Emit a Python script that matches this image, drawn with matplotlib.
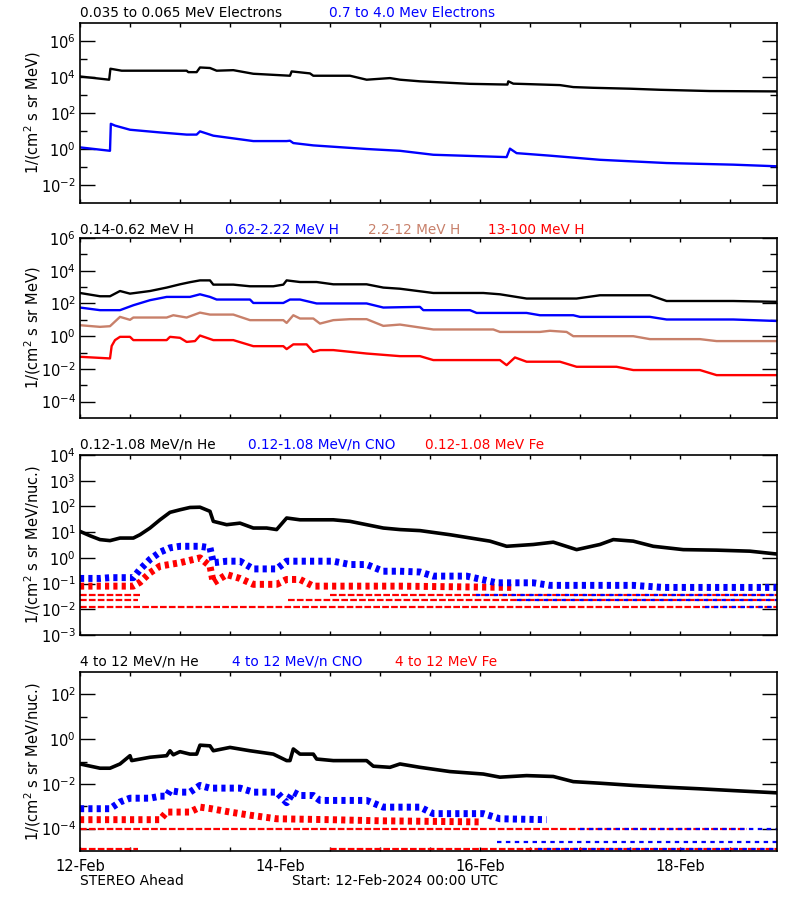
import numpy as np
import matplotlib
matplotlib.use("Agg")
import matplotlib.pyplot as plt
from matplotlib.ticker import FixedLocator, NullFormatter

plt.rcParams['font.family'] = ['DejaVu Sans']

TAN = '#C8806A'

# ---- panel 1: electrons (hours since 12-Feb 00:00, log10 flux)
e_lo_t = [0, 7.0, 7.3, 10, 25.6, 26, 28, 28.8, 31.2, 32.8, 36.8, 41.6, 48, 50.4, 50.8, 55.2, 56, 64.8,
          68.8, 74.4, 76.8, 81.6, 93.6, 102.6, 102.8, 104, 115.2, 118.4, 123.2, 132, 139.2, 151.2, 167.2]
e_lo_v = [4.03, 3.85, 4.46, 4.35, 4.35, 4.27, 4.27, 4.53, 4.5, 4.35, 4.38, 4.18, 4.1, 4.07, 4.31, 4.2, 4.07, 4.07,
          3.85, 3.94, 3.85, 3.76, 3.62, 3.58, 3.76, 3.63, 3.55, 3.44, 3.4, 3.35, 3.29, 3.22, 3.2]
e_hi_t = [0, 7.2, 7.4, 8.4, 12, 19.2, 25.6, 28, 28.8, 32, 41.6, 49.6, 50.4, 51.2, 56, 68.8, 76.8,
          84.8, 102.4, 103.2, 104.8, 112.8, 124.8, 140.8, 156.8, 167.2]
e_hi_v = [0.09, -0.1, 1.4, 1.3, 1.07, 0.92, 0.8, 0.8, 0.98, 0.74, 0.44, 0.44, 0.46, 0.33, 0.2, 0.0, -0.1,
          -0.32, -0.45, 0.02, -0.23, -0.37, -0.6, -0.78, -0.87, -0.96]

# ---- panel 2: protons
h1_t = [0, 4.8, 7.2, 9.6, 12, 16.8, 20.8, 24, 26.4, 28.8, 31.2, 32, 36.8, 40.8, 46.4, 48.8, 49.6, 52.8,
        56.8, 60.8, 68.8, 72.8, 76.8, 84.8, 96.8, 100.8, 107.2, 119.2, 124.8, 136.8, 140.8, 156.8, 167.2]
h1_v = [2.64, 2.44, 2.44, 2.76, 2.6, 2.76, 2.97, 3.17, 3.3, 3.41, 3.41, 3.15, 3.15, 3.05, 3.05, 3.15, 3.41, 3.31,
        3.31, 3.17, 3.17, 2.97, 2.9, 2.64, 2.64, 2.56, 2.3, 2.3, 2.5, 2.5, 2.15, 2.15, 2.1]
h2_t = [0, 4.8, 9.6, 12.8, 16.8, 20.8, 26.4, 28.8, 31.2, 32.8, 40.8, 41.6, 48.8, 50.4, 52.8, 56.8, 68.8,
        72.8, 76.8, 81.6, 82.4, 93.6, 95.2, 107.2, 110.4, 118.4, 120, 136.8, 140.8, 156.8, 167.2]
h2_v = [1.75, 1.59, 1.59, 1.89, 2.2, 2.4, 2.4, 2.56, 2.4, 2.24, 2.24, 2.03, 2.03, 2.24, 2.24, 2.0, 2.0,
        1.75, 1.77, 1.79, 1.59, 1.59, 1.42, 1.42, 1.28, 1.28, 1.18, 1.18, 1.02, 1.02, 0.93]
h3_t = [0, 4.8, 7.2, 9.6, 12, 12.8, 20.8, 22.4, 25.6, 28.8, 31.2, 36.8, 40.8, 48.8, 49.6, 51.2, 52.8, 56,
        57.6, 60.8, 64.8, 68.8, 72.8, 76.8, 84.8, 99.2, 100.8, 110.4, 112.8, 116.8, 118.4, 132.8, 136.8,
        148.8, 152.8, 167.2]
h3_v = [0.67, 0.57, 0.61, 1.18, 1.0, 1.14, 1.14, 1.28, 1.14, 1.44, 1.32, 1.32, 0.98, 0.98, 0.81, 1.28, 1.08, 1.08,
        0.77, 0.98, 1.04, 1.04, 0.63, 0.71, 0.41, 0.41, 0.26, 0.26, 0.33, 0.26, 0.0, 0.0, -0.18,
        -0.18, -0.3, -0.3]
h4_t = [0, 7.2, 7.6, 8.4, 9.6, 12, 12.8, 20.8, 21.6, 24, 25.6, 27.6, 28.8, 30.4, 32, 36.8, 41.6, 48.8, 49.6,
        51.2, 54.4, 56, 57.6, 60.8, 68.8, 76.8, 81.6, 84.8, 100.8, 102.4, 104.4, 107.2, 115.2, 119.2, 128.8,
        132.8, 148.8, 152.8, 167.2]
h4_v = [-1.26, -1.36, -0.6, -0.24, -0.04, -0.04, -0.24, -0.24, -0.04, -0.1, -0.35, -0.3, 0.04, -0.1, -0.24, -0.24,
        -0.61, -0.61, -0.79, -0.5, -0.5, -0.96, -0.85, -0.85, -1.06, -1.22, -1.22, -1.46, -1.46, -1.77, -1.3,
        -1.56, -1.56, -1.87, -1.87, -2.07, -2.07, -2.38, -2.38]

# ---- panel 3: 0.12-1.08 MeV/n ions
he_lo_t = [0, 2.4, 4.8, 7.2, 9.6, 12.8, 14.4, 16.8, 19.2, 21.6, 24, 26.4, 28.8, 31.2, 32, 35.2, 38.4, 41.6,
           44.8, 47.2, 49.6, 52.8, 60.8, 64.8, 68.8, 72.8, 76.8, 81.6, 88.8, 98.4, 102.4, 108.8, 113.6,
           119.2, 124.8, 128, 132.8, 137.6, 144.8, 152.8, 160.8, 167.2]
he_lo_v = [1.03, 0.86, 0.71, 0.67, 0.77, 0.77, 0.9, 1.16, 1.48, 1.77, 1.87, 1.96, 1.97, 1.81, 1.42, 1.29, 1.35, 1.16,
           1.16, 1.1, 1.55, 1.48, 1.48, 1.42, 1.29, 1.16, 1.1, 1.06, 0.9, 0.65, 0.45, 0.52, 0.61,
           0.32, 0.52, 0.71, 0.65, 0.45, 0.32, 0.3, 0.26, 0.15]
cno_lo_t = [0, 4.8, 7.2, 12.8, 14.4, 16.8, 19.2, 21.6, 24, 28.8, 31.2, 32, 35.2, 38.4, 41.6, 47.2, 49.6,
            52.8, 60.8, 64.8, 68.8, 72.8, 76.8, 81.6, 84.8, 92.8, 100, 108.8, 112.8, 132.8, 140, 167.2]
cno_lo_v = [-0.8, -0.8, -0.77, -0.77, -0.45, -0.06, 0.22, 0.39, 0.45, 0.45, 0.39, -0.19, -0.13, -0.13, -0.43,
            -0.43, -0.13, -0.13, -0.13, -0.26, -0.26, -0.52, -0.52, -0.55, -0.71, -0.71, -0.97, -0.97, -1.07,
            -1.07, -1.15, -1.15]
fe_lo_t = [0, 12.8, 14.4, 16.8, 19.2, 24, 28.8, 31.2, 32, 35.2, 38.4, 41.6, 47.2, 49.6, 52.8, 56, 76.8, 104]
fe_lo_v = [-1.1, -1.1, -0.95, -0.58, -0.32, -0.19, 0.0, -0.32, -0.97, -0.65, -0.8, -1.03, -1.03, -0.84, -0.84,
           -1.1, -1.1, -1.15]
# one/two/three-count floors (level, start h, end h)
lo_lvl_red = [-1.93, -1.62, -1.44, -1.62, -1.44]
lo_lvl_red_s = [0, 0, 0, 50, 60]
lo_lvl_red_e = [167.2, 14, 15, 167.2, 167.2]
lo_lvl_blue = [-1.44, -1.62, -1.93]
lo_lvl_blue_s = [95, 105, 150]
lo_lvl_blue_e = [167.2, 167.2, 167.2]

# ---- panel 4: 4-12 MeV/n ions
he_hi_t = [0, 4.8, 7.2, 9.6, 12, 12.4, 16.8, 20.8, 21.6, 22.4, 24, 26.4, 28, 28.8, 31.2, 32, 36, 40.8, 46.4,
           49.6, 50.4, 51.2, 52.8, 56, 56.8, 60.8, 68.8, 70.4, 74.4, 76.8, 81.6, 88.8, 96.8, 100.8, 107.2,
           113.6, 118.4, 124.8, 132.8, 140.8, 148.8, 156.8, 167.2]
he_hi_v = [-1.11, -1.3, -1.3, -1.11, -0.74, -0.96, -0.81, -0.74, -0.52, -0.7, -0.56, -0.67, -0.67, -0.27, -0.3,
           -0.52, -0.37, -0.52, -0.67, -0.96, -0.96, -0.44, -0.67, -0.67, -0.89, -0.96, -0.96, -1.21, -1.26,
           -1.11, -1.26, -1.45, -1.56, -1.7, -1.63, -1.67, -1.9, -1.97, -2.07, -2.15, -2.22, -2.3, -2.4]
cno_hi_t = [0, 7.2, 9.6, 12, 16.8, 19.2, 20.8, 21.6, 24, 26.4, 28.8, 31.2, 38.4, 41.6, 47.2, 49.6, 51.2, 52.8,
            56, 57.6, 68.8, 72.8, 81.6, 84.8, 96.8, 100.8, 112]
cno_hi_v = [-3.11, -3.11, -2.81, -2.64, -2.64, -2.55, -2.55, -2.3, -2.37, -2.37, -2.07, -2.19, -2.19, -2.37,
            -2.37, -2.84, -2.37, -2.52, -2.52, -2.74, -2.74, -3.04, -3.04, -3.33, -3.33, -3.56, -3.6]
fe_hi_t = [0, 19.2, 20.8, 26.4, 28.8, 31.2, 36, 40.8, 47.2, 60, 72, 96]
fe_hi_v = [-3.6, -3.6, -3.26, -3.26, -3.04, -3.1, -3.26, -3.4, -3.56, -3.6, -3.65, -3.7]
hi_lvl_red = [-4.0, -4.9, -4.9]
hi_lvl_red_s = [0, 0, 60]
hi_lvl_red_e = [160, 14, 167.2]
hi_lvl_blue = [-4.0, -4.6, -4.9]
hi_lvl_blue_s = [120, 100, 110]
hi_lvl_blue_e = [167.2, 167.2, 167.2]

day_ticks = [0, 48, 96, 144]
day_labels = ['12-Feb', '14-Feb', '16-Feb', '18-Feb']
T_END = 167.3

W, H = 800, 900
fig = plt.figure(figsize=(8, 9), dpi=100)

def make_ax(top_px, bot_px, ymin, ymax, labeled, minor):
    ax = fig.add_axes([80 / W, 1 - bot_px / H, 697 / W, (bot_px - top_px) / H])
    ax.set_yscale('log')
    ax.set_ylim(10.0 ** ymin, 10.0 ** ymax)
    ax.set_xlim(0, T_END)
    ax.yaxis.set_major_locator(FixedLocator([10.0 ** k for k in labeled]))
    ax.set_yticklabels([r'10$^{%d}$' % k for k in labeled])
    ax.yaxis.set_minor_locator(FixedLocator([10.0 ** k for k in minor]))
    ax.yaxis.set_minor_formatter(NullFormatter())
    ax.set_xticks(day_ticks)
    ax.set_xticks(np.arange(0, T_END, 12), minor=True)
    ax.set_xticklabels([])
    ax.tick_params(axis='y', which='major', direction='in', length=10.8, width=1, left=True, right=True,
                   labelsize=10.5, pad=3)
    ax.tick_params(axis='y', which='minor', direction='in', length=5.2, width=1, left=True, right=True)
    ax.tick_params(axis='x', which='both', direction='in', length=2.6, width=1, top=True, bottom=True)
    for s in ax.spines.values():
        s.set_linewidth(1.2)
    return ax

def line(ax, t, v, color, lw=1.7):
    ax.plot(t, 10.0 ** np.array(v), color=color, lw=lw)

def cloud(ax, t, v, color):
    ax.plot(t, 10.0 ** np.array(v), color=color, lw=5.0, linestyle=(0, (0.6, 0.6)))

def levels(ax, lv, s, e, color, dash):
    for k in range(len(lv)):
        ax.plot([s[k], e[k]], [10.0 ** lv[k]] * 2, color=color, lw=1.6, linestyle=dash)

def titles(y_px, items):
    for x_px, txt, c in items:
        fig.text(x_px / W, 1 - y_px / H, txt, color=c, fontsize=9.8, va='center', ha='left')

def ylab(ax, top_px, bot_px, txt):
    fig.text(33 / W, 1 - (top_px + bot_px) / 2 / H, txt, rotation=90, ha='center', va='center', fontsize=10.5)

# panel 1
ax1 = make_ax(23, 203, -3, 7, [6, 4, 2, 0, -2], [5, 3, 1, -1])
line(ax1, e_lo_t, e_lo_v, 'black')
line(ax1, e_hi_t, e_hi_v, 'blue')
titles(13, [(80, '0.035 to 0.065 MeV Electrons', 'black'), (329, '0.7 to 4.0 Mev Electrons', 'blue')])
ylab(ax1, 23, 203, r'1/(cm$^2$ s sr MeV)')

# panel 2
ax2 = make_ax(238, 418, -5, 6, [6, 4, 2, 0, -2, -4], [5, 3, 1, -1, -3])
line(ax2, h1_t, h1_v, 'black')
line(ax2, h2_t, h2_v, 'blue')
line(ax2, h3_t, h3_v, TAN)
line(ax2, h4_t, h4_v, 'red')
titles(229.5, [(80, '0.14-0.62 MeV H', 'black'), (225, '0.62-2.22 MeV H', 'blue'),
               (368, '2.2-12 MeV H', TAN), (488, '13-100 MeV H', 'red')])
ylab(ax2, 238, 418, r'1/(cm$^2$ s sr MeV)')

# panel 3
ax3 = make_ax(455, 635, -3, 4, [4, 3, 2, 1, 0, -1, -2, -3], [])
levels(ax3, lo_lvl_red, lo_lvl_red_s, lo_lvl_red_e, 'red', (0, (3, 1)))
levels(ax3, lo_lvl_blue, lo_lvl_blue_s, lo_lvl_blue_e, 'blue', (0, (2, 2)))
cloud(ax3, fe_lo_t, fe_lo_v, 'red')
cloud(ax3, cno_lo_t, cno_lo_v, 'blue')
line(ax3, he_lo_t, he_lo_v, 'black', lw=2.6)
titles(445, [(80, '0.12-1.08 MeV/n He', 'black'), (248, '0.12-1.08 MeV/n CNO', 'blue'),
             (425, '0.12-1.08 MeV Fe', 'red')])
ylab(ax3, 455, 635, r'1/(cm$^2$ s sr MeV/nuc.)')

# panel 4
ax4 = make_ax(672, 851, -5, 3, [2, 0, -2, -4], [1, -1, -3])
levels(ax4, hi_lvl_red, hi_lvl_red_s, hi_lvl_red_e, 'red', (0, (3, 1)))
levels(ax4, hi_lvl_blue, hi_lvl_blue_s, hi_lvl_blue_e, 'blue', (0, (2, 2)))
cloud(ax4, fe_hi_t, fe_hi_v, 'red')
cloud(ax4, cno_hi_t, cno_hi_v, 'blue')
line(ax4, he_hi_t, he_hi_v, 'black', lw=2.6)
titles(661.5, [(80, '4 to 12 MeV/n He', 'black'), (232, '4 to 12 MeV/n CNO', 'blue'),
               (395, '4 to 12 MeV Fe', 'red')])
ylab(ax4, 672, 851, r'1/(cm$^2$ s sr MeV/nuc.)')
ax4.set_xticklabels(day_labels)
ax4.tick_params(axis='x', which='major', labelsize=10.5, pad=6)

fig.text(80 / W, 1 - 881 / H, 'STEREO Ahead', fontsize=10, va='center', ha='left')
fig.text(292 / W, 1 - 881 / H, 'Start: 12-Feb-2024 00:00 UTC', fontsize=10, va='center', ha='left')

fig.savefig('out.png', dpi=100, facecolor='white')
